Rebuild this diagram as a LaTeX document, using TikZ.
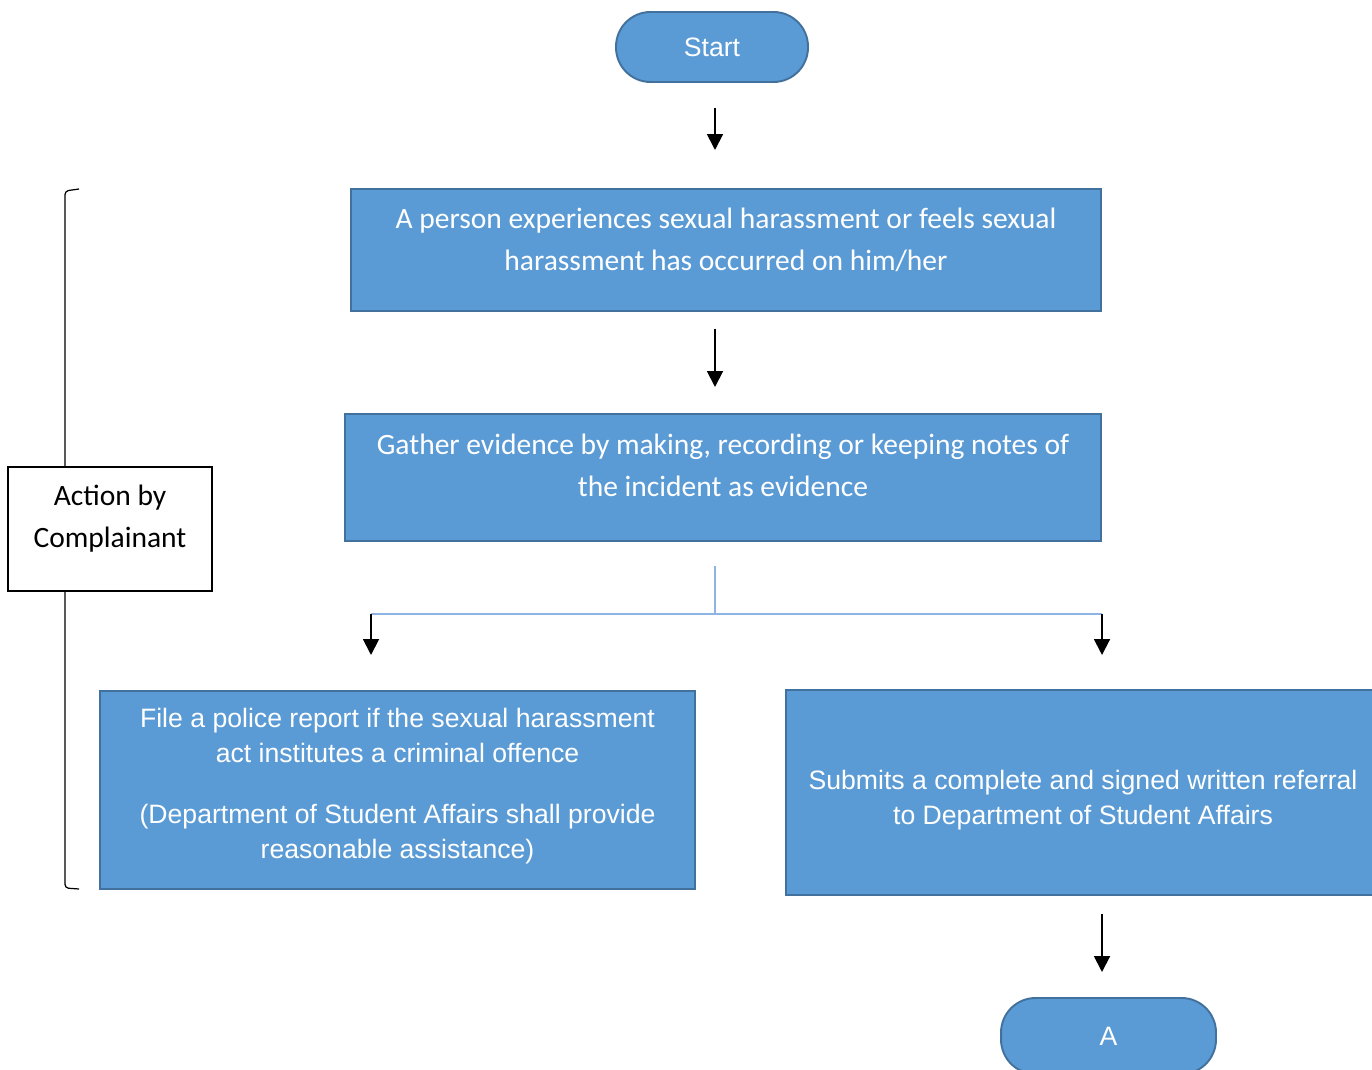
\documentclass[tikz,border=0pt]{standalone}
\usepackage{fontspec}
\setmainfont{Carlito}
\newfontfamily\arialfont{Liberation Sans}
\usepackage{xcolor}
\usetikzlibrary{arrows.meta,positioning}
\definecolor{boxblue}{HTML}{5B9BD5}
\definecolor{boxedge}{HTML}{41719C}
\definecolor{linkblue}{HTML}{8DB4E2}

\begin{document}
\begin{tikzpicture}[>={Triangle[length=9pt,width=9pt]},x=0.02cm,y=-0.02cm]
  \tikzstyle{stepbox}=[rectangle,draw=boxedge,fill=boxblue,line width=1.1pt,inner sep=0pt]
  \tikzstyle{steptext}=[text=white,align=center,inner sep=0pt,font=\fontsize{16.8}{23.8}\selectfont]
  \tikzstyle{arialtext}=[steptext,font=\arialfont\fontsize{15.15}{19.8}\selectfont]
  \tikzstyle{terminal}=[stepbox,arialtext,rounded corners=0.69cm,minimum height=1.4cm]
  \tikzstyle{sidebox}=[rectangle,draw,line width=1.1pt,minimum width=4.08cm,minimum height=2.48cm]
  \tikzstyle{flow}=[->,line width=1.1pt]

  \useasboundingbox (0,0) rectangle (1372,1070);

  \node[terminal,minimum width=3.84cm] (start) at (712,47) {Start};
  \node[stepbox,minimum width=15cm,minimum height=2.44cm] (occur) at (726,250) {};
  \node[steptext] (occurtxt) at (726,240)
    {A person experiences sexual harassment or feels sexual\\harassment has occurred on him/her};
  \node[stepbox,minimum width=15.12cm,minimum height=2.54cm] (gather) at (723,477.5) {};
  \node[steptext] (gathertxt) at (723,465.5)
    {Gather evidence by making, recording or keeping notes of\\the incident as evidence};
  \node[stepbox,minimum width=11.9cm,minimum height=3.96cm] (police) at (397.5,790) {};
  \node[arialtext] (policetxt) at (397.5,786)
    {File a police report if the sexual harassment\\act institutes a criminal offence\\[15pt]
     (Department of Student Affairs shall provide\\reasonable assistance)};
  \node[stepbox,minimum width=11.88cm,minimum height=4.1cm] (referral) at (1083,792.5) {};
  \node[arialtext] (referraltxt) at (1083,800.5)
    {Submits a complete and signed written referral\\to Department of Student Affairs};
  \node[terminal,minimum width=4.3cm,minimum height=1.52cm] (conn) at (1108.5,1036) {A};
  \node[sidebox] (actor) at (110,529) {};
  \node[steptext,text=black] (actortxt) at (110,519) {Action by\\Complainant};

  % arrows between the steps
  \coordinate (a1) at (715,108);
  \coordinate (b1) at (715,150);
  \coordinate (a2) at (715,329);
  \coordinate (b2) at (715,387);
  \coordinate (a3) at (1102,914);
  \coordinate (b3) at (1102,972);
  \draw[flow] (a1) -- (b1);
  \draw[flow] (a2) -- (b2);
  \draw[flow] (a3) -- (b3);

  % split after gathering evidence
  \coordinate (split) at (715,614);
  \coordinate (splitL) at (371,614);
  \coordinate (splitR) at (1102,614);
  \draw[linkblue,line width=0.8pt] (715,566) -- (split);
  \draw[linkblue,line width=0.8pt] (splitL) -- (splitR);
  \draw[flow] (splitL) -- (371,655);
  \draw[flow] (splitR) -- (1102,655);

  % bracket
  \draw[line width=0.7pt,rounded corners=2pt] (79,189) -- (65,191) -- (actor.north -| 65,0);
  \draw[line width=0.7pt,rounded corners=2pt] (actor.south -| 65,0) -- (65,888) -- (79,889);
\end{tikzpicture}
\end{document}
